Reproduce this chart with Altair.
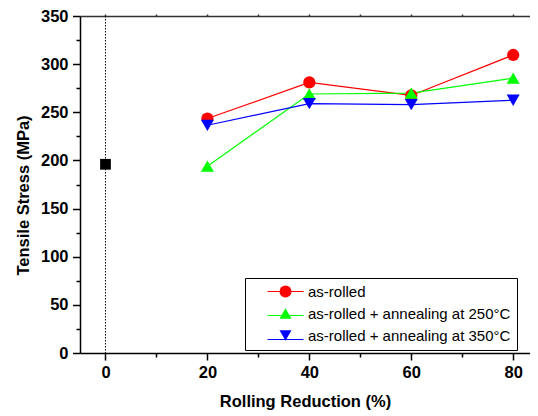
import altair as alt
import pandas as pd

# ---- data ----
reduction = [20, 40, 60, 80]
as_rolled = [243.5, 281, 267.5, 309.5]
ann_250 = [194, 269, 270, 285.5]
ann_350 = [236.5, 259, 258, 262.5]
base_x = [0]
base_y = [196]
zero_line = [0]
series_names = ["as-rolled", "as-rolled + annealing at 250°C", "as-rolled + annealing at 350°C"]
colors = ["#ff0000", "#00ff00", "#0000ff"]
shapes = ["circle", "triangle-up", "triangle-down"]
marker_sizes = [150, 170, 170]
x_ticks = [0, 10, 20, 30, 40, 50, 60, 70, 80]
y_ticks = list(range(0, 351, 25))

# legend labels (trailing no-break spaces widen the legend box like the reference;
# the line-segment legend uses its own keys so that the two legends stay separate)
legend_labels = [s + "\u00a0\u00a0" for s in series_names]
segment_keys = [s + "\u00a0\u00a0\u00a0" for s in series_names]

df = pd.DataFrame({
    "reduction": reduction * 3,
    "stress": as_rolled + ann_250 + ann_350,
    "series": [series_names[0]] * 4 + [series_names[1]] * 4 + [series_names[2]] * 4,
    "label": [legend_labels[0]] * 4 + [legend_labels[1]] * 4 + [legend_labels[2]] * 4,
    "segment": [segment_keys[0]] * 4 + [segment_keys[1]] * 4 + [segment_keys[2]] * 4,
})
base = pd.DataFrame({"reduction": base_x, "stress": base_y})
zl = pd.DataFrame({"reduction": zero_line})

FONT = "Liberation Sans"

xscale = alt.Scale(domain=[-5, 83.3], nice=False, zero=False)
yscale = alt.Scale(domain=[0, 350], nice=False)

y_enc = alt.Y(
    "stress:Q",
    scale=yscale,
    axis=alt.Axis(
        values=y_ticks,
        labelExpr="datum.value % 50 === 0 ? datum.label : ''",
        tickSize={"condition": {"test": "datum.value % 50 === 0", "value": 7.5}, "value": 4},
        labelPadding=4.5,
        grid=False,
        domainColor="black", domainWidth=1.5,
        tickColor="black", tickWidth=1.5,
        labelFont=FONT, labelFontSize=16.5, labelFontWeight="bold", labelColor="black",
        labelOverlap=False, labelFlush=False,
        title="Tensile Stress (MPa)",
        titleFont=FONT, titleFontSize=16.5, titleFontWeight="bold", titleColor="black",
        titleX=-57, titleY=179, titleBaseline="middle", titleAngle=270,
    ),
)

x_bottom = alt.X(
    "reduction:Q",
    scale=xscale,
    axis=alt.Axis(
        orient="bottom",
        values=x_ticks,
        labelExpr="datum.value % 20 === 0 ? datum.label : ''",
        tickSize={"condition": {"test": "datum.value % 20 === 0", "value": 7}, "value": 4},
        labelPadding=4,
        grid=False,
        domainColor="black", domainWidth=1.5,
        tickColor="black", tickWidth=1.5,
        labelFont=FONT, labelFontSize=16.5, labelFontWeight="bold", labelColor="black",
        labelOverlap=False, labelFlush=False,
        title="Rolling Reduction (%)",
        titleFont=FONT, titleFontSize=16.5, titleFontWeight="bold", titleColor="black",
        titleY=48.7, titleBaseline="middle",
    ),
)

x_top = alt.X(
    "reduction:Q",
    scale=xscale,
    axis=alt.Axis(
        orient="top",
        values=x_ticks,
        labels=False,
        tickSize=2,
        grid=False,
        domainColor="#333333", domainWidth=1.5,
        tickColor="#333333", tickWidth=1.5,
        title=None,
    ),
)

x_none = alt.X("reduction:Q", scale=xscale, axis=None)

lines = alt.Chart(df).mark_line(strokeWidth=1.2).encode(
    x=x_bottom,
    y=y_enc,
    color=alt.Color("series:N", scale=alt.Scale(domain=series_names, range=colors), legend=None),
)

point_layers = []
for i, name in enumerate(series_names):
    enc_x = x_top if i == 0 else x_none
    point_layers.append(
        alt.Chart(df)
        .transform_filter(alt.datum.series == name)
        .mark_point(filled=True, opacity=1, strokeWidth=0, shape=shapes[i], size=marker_sizes[i], color=colors[i])
        .encode(x=enc_x, y=y_enc)
    )

rule = alt.Chart(zl).mark_rule(color="black", strokeWidth=1, strokeDash=[1.5, 1.5]).encode(x=x_none)

square = alt.Chart(base).mark_point(shape="square", filled=True, opacity=1, color="black", size=115, strokeWidth=0).encode(
    x=x_none, y=y_enc
)

# legend of the line segments (no box, no labels)
line_leg = alt.Legend(
    title=None,
    orient="none",
    legendX=186.5,
    legendY=256.5,
    padding=0,
    rowPadding=-17,
    symbolType="stroke",
    symbolSize=1296,
    symbolStrokeWidth=1.2,
    symbolOpacity=1,
    labelExpr="''",
    labelFontSize=10,
    labelFont=FONT,
)

# legend of the markers, with the box and the labels
mark_leg = alt.Legend(
    title=None,
    orient="none",
    legendX=165,
    legendY=262,
    padding=6,
    rowPadding=6,
    strokeColor="black",
    symbolSize=144,
    symbolStrokeWidth=0,
    symbolOpacity=1,
    symbolOffset=27,
    labelOffset=15,
    labelFont=FONT,
    labelFontSize=15,
    labelColor="black",
    labelLimit=400,
)

legend_layer = alt.Chart(df).mark_point(filled=True, opacity=1, size=0, strokeWidth=0).encode(
    x=x_none,
    y=y_enc,
    shape=alt.Shape("label:N", scale=alt.Scale(domain=legend_labels, range=shapes), legend=mark_leg),
    fill=alt.Fill("label:N", scale=alt.Scale(domain=legend_labels, range=colors), legend=mark_leg),
    stroke=alt.Stroke("segment:N", scale=alt.Scale(domain=segment_keys, range=colors), legend=line_leg),
)

chart = (
    alt.layer(rule, lines, *point_layers, square, legend_layer)
    .resolve_axis(x="independent")
    .properties(
        width=450,
        height=337,
        autosize=alt.AutoSizeParams(type="none"),
        padding={"left": 72, "top": 8, "right": 0, "bottom": 60},
    )
    .configure_view(strokeWidth=0)
    .configure(background="white")
)

chart.save("out.html", embed_options={"renderer": "svg", "actions": False})
